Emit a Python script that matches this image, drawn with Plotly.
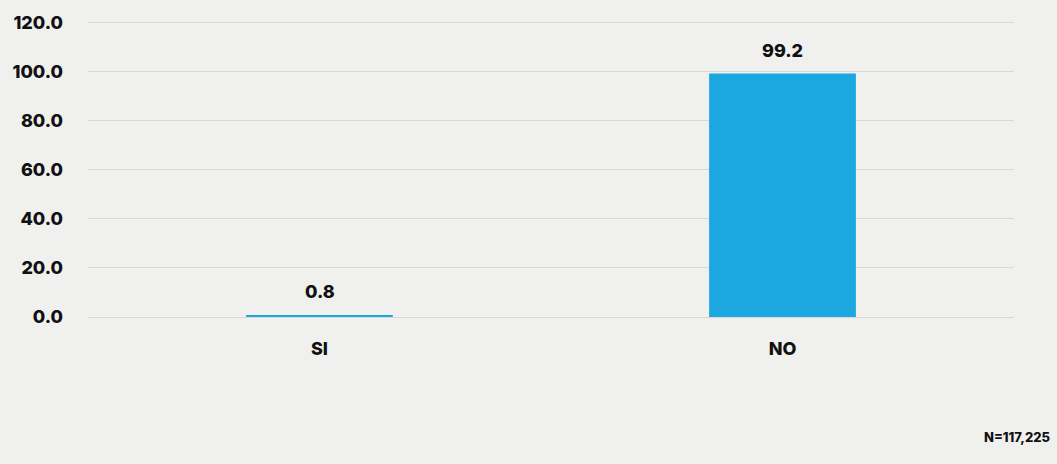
import plotly.graph_objects as go

categories = ["SI", "NO"]
values = [0.8, 99.2]
value_labels = ["0.8", "99.2"]
y_ticks = [0, 20, 40, 60, 80, 100, 120]
y_tick_labels = ["0.0", "20.0", "40.0", "60.0", "80.0", "100.0", "120.0"]
note = "N=117,225"

font_family = "Inter, 'Open Sans', sans-serif"
bold_font = dict(family=font_family, size=18, color="#111111", weight=800)

fig = go.Figure()
fig.add_trace(go.Bar(
    x=categories, y=values,
    marker=dict(color="#1ba8e0", line=dict(width=0)),
    cliponaxis=False,
))

annotations = [
    dict(x=c, y=v, text=t, xref="x", yref="y", showarrow=False,
         yanchor="bottom", yshift=11, font=bold_font)
    for c, v, t in zip(categories, values, value_labels)
]
annotations.append(dict(
    text=note, xref="paper", yref="paper", x=1.041, y=-0.405,
    xanchor="right", yanchor="middle", showarrow=False,
    font=dict(family=font_family, size=13, color="#111111", weight=800),
))

fig.update_layout(
    width=1057, height=464,
    margin=dict(l=86, r=43, t=20, b=147),
    paper_bgcolor="#f0f0ef", plot_bgcolor="#f0f0ef",
    bargap=0.683,
    showlegend=False,
    font=dict(family=font_family, color="#111111"),
    xaxis=dict(
        showgrid=False, zeroline=False, showline=False,
        tickfont=bold_font, ticks="", ticklabelstandoff=19,
    ),
    yaxis=dict(
        range=[0, 121], tickvals=y_ticks, ticktext=y_tick_labels,
        showgrid=True, gridcolor="#d9d6d3", gridwidth=1,
        zeroline=True, zerolinecolor="#d9d6d3", zerolinewidth=1,
        showline=False, ticks="",
        tickfont=bold_font, ticklabelstandoff=24,
    ),
    annotations=annotations,
)

fig.write_html(
    "out.html",
    config={"displayModeBar": False},
    post_script="document.body.style.margin='0px';document.body.style.background='#f0f0ef';",
)
